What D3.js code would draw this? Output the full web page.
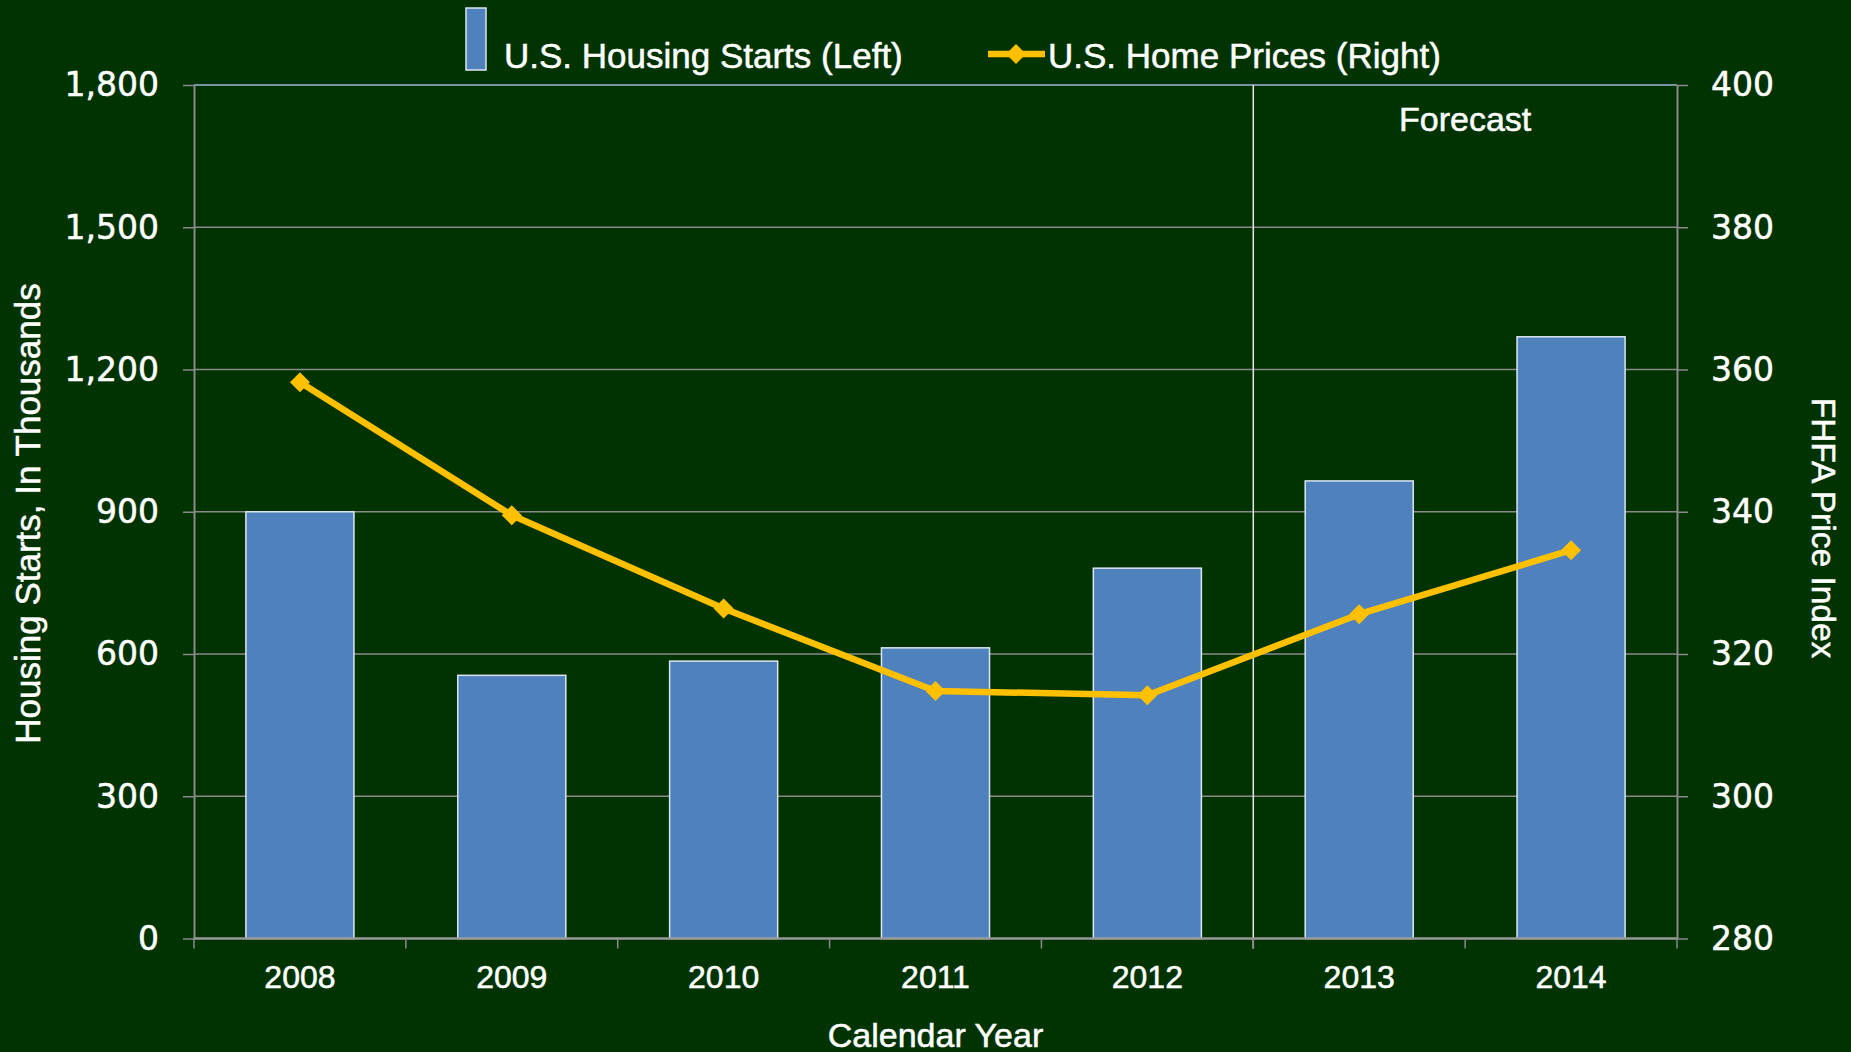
<!DOCTYPE html>
<html>
<head>
<meta charset="utf-8">
<script src="https://cdn.jsdelivr.net/npm/d3@7"></script>
<style>
  body { margin: 0; background: #003300; }
  svg { display: block; }
</style>
</head>
<body>
<div id="chart"></div>
<script>
// chart data
var years = ["2008", "2009", "2010", "2011", "2012", "2013", "2014"];
var housingStarts = [900, 555, 585, 613, 781, 965, 1269];
var homePrices = [358.2, 339.5, 326.4, 314.8, 314.2, 325.6, 334.6];
var leftTicks = [0, 300, 600, 900, 1200, 1500, 1800];
var rightTicks = [280, 300, 320, 340, 360, 380, 400];
var forecastFrom = "2013";

var areaWidth = 1851;
var areaHeight = 1052;
var plot = { left: 194, right: 1677, top: 85, bottom: 938.5 };

var bg = "#003300";
var barColor = "#4f81bd";
var barStroke = "#dce6f2";
var lineColor = "#ffc000";
var gridColor = "#8a8a8a";
var labelFont = "'Liberation Sans', Arial, sans-serif";
var tickFont = "'DejaVu Sans', Verdana, sans-serif";

var svg = d3.select("#chart").append("svg")
  .attr("width", areaWidth)
  .attr("height", areaHeight)
  .style("background", bg);

var x = d3.scaleBand()
  .domain(years)
  .range([plot.left, plot.right])
  .paddingInner(0.49)
  .paddingOuter(0.245);

var yLeft = d3.scaleLinear().domain([0, 1800]).range([plot.bottom, plot.top]);
var yRight = d3.scaleLinear().domain([280, 400]).range([plot.bottom, plot.top]);

// band boundary (left edge of a category slot)
function slotStart(d) {
  return x(d) - (x.step() * x.paddingInner()) / 2;
}

// white text, slightly heavier than the plain font
function whiteText(sel, font, size) {
  return sel
    .style("fill", "white")
    .style("stroke", "white")
    .style("stroke-width", 0.5)
    .style("font-family", font)
    .style("font-size", size + "px");
}

// gridlines
svg.append("g")
  .selectAll("line")
  .data(leftTicks.slice(1, -1))
  .enter()
  .append("line")
  .attr("x1", plot.left)
  .attr("x2", plot.right)
  .attr("y1", function (d) { return yLeft(d); })
  .attr("y2", function (d) { return yLeft(d); })
  .style("stroke", gridColor)
  .style("stroke-width", 1.5);

// top border of plot area
svg.append("line")
  .attr("x1", plot.left)
  .attr("x2", plot.right)
  .attr("y1", plot.top)
  .attr("y2", plot.top)
  .style("stroke", "#9fb6d6")
  .style("stroke-width", 1.5);

// bars
svg.append("g")
  .selectAll("rect")
  .data(housingStarts)
  .enter()
  .append("rect")
  .attr("x", function (d, i) { return x(years[i]); })
  .attr("y", function (d) { return yLeft(d); })
  .attr("width", x.bandwidth())
  .attr("height", function (d) { return yLeft(0) - yLeft(d); })
  .style("fill", barColor)
  .style("stroke", barStroke)
  .style("stroke-width", 1.5);

// forecast divider
var divX = slotStart(forecastFrom);
svg.append("line")
  .attr("x1", divX)
  .attr("x2", divX)
  .attr("y1", plot.top)
  .attr("y2", plot.bottom + 10)
  .style("stroke", "#e8e8e8")
  .style("stroke-width", 1.5);

whiteText(svg.append("text"), labelFont, 34)
  .text("Forecast")
  .attr("x", (divX + plot.right) / 2)
  .attr("y", 130.5)
  .attr("text-anchor", "middle");

// left axis
var leftAxis = svg.append("g")
  .attr("transform", "translate(" + plot.left + ",0)")
  .call(d3.axisLeft(yLeft).tickValues(leftTicks).tickFormat(d3.format(","))
    .tickSize(11).tickSizeOuter(0).tickPadding(24));

// right axis
var rightAxis = svg.append("g")
  .attr("transform", "translate(" + plot.right + ",0)")
  .call(d3.axisRight(yRight).tickValues(rightTicks)
    .tickSize(11).tickSizeOuter(0).tickPadding(23));

[leftAxis, rightAxis].forEach(function (g) {
  g.select(".domain").style("stroke", gridColor).style("stroke-width", 2);
  g.selectAll(".tick line").style("stroke", gridColor).style("stroke-width", 1.5);
  whiteText(g.selectAll(".tick text"), tickFont, 33)
    .attr("dy", "0.33em");
});

// x axis labels
var xAxis = svg.append("g")
  .attr("transform", "translate(0," + plot.bottom + ")")
  .call(d3.axisBottom(x).tickSize(0).tickPadding(27));
xAxis.select(".domain").remove();
whiteText(xAxis.selectAll(".tick text"), labelFont, 32);

// x axis line and slot ticks
svg.append("line")
  .attr("x1", plot.left)
  .attr("x2", plot.right)
  .attr("y1", plot.bottom)
  .attr("y2", plot.bottom)
  .style("stroke", "#999999")
  .style("stroke-width", 2.5);

svg.append("g")
  .selectAll("line")
  .data(years.concat(["end"]))
  .enter()
  .append("line")
  .attr("x1", function (d, i) { return i < years.length ? slotStart(d) : plot.right; })
  .attr("x2", function (d, i) { return i < years.length ? slotStart(d) : plot.right; })
  .attr("y1", plot.bottom)
  .attr("y2", plot.bottom + 10)
  .style("stroke", gridColor)
  .style("stroke-width", 1.5);

// price line
var line = d3.line()
  .x(function (d, i) { return x(years[i]) + x.bandwidth() / 2; })
  .y(function (d) { return yRight(d); });

svg.append("path")
  .datum(homePrices)
  .attr("d", line)
  .style("fill", "none")
  .style("stroke", lineColor)
  .style("stroke-width", 6.5)
  .style("stroke-linejoin", "round");

var diamond = d3.symbol().type(d3.symbolSquare).size(200);

svg.append("g")
  .selectAll("path")
  .data(homePrices)
  .enter()
  .append("path")
  .attr("d", diamond)
  .attr("transform", function (d, i) {
    return "translate(" + (x(years[i]) + x.bandwidth() / 2) + "," + yRight(d) + ") rotate(45)";
  })
  .style("fill", lineColor);

// axis titles
whiteText(svg.append("text"), labelFont, 35)
  .text("Housing Starts, In Thousands")
  .attr("transform", "translate(39.5,513.5) rotate(-90)")
  .attr("text-anchor", "middle");

whiteText(svg.append("text"), labelFont, 33.5)
  .text("FHFA Price Index")
  .attr("transform", "translate(1812,528) rotate(90)")
  .attr("text-anchor", "middle");

whiteText(svg.append("text"), labelFont, 34)
  .text("Calendar Year")
  .attr("x", 935.5)
  .attr("y", 1046.5)
  .attr("text-anchor", "middle");

// legend
var legend = svg.append("g");

legend.append("rect")
  .attr("x", 466)
  .attr("y", 8)
  .attr("width", 20)
  .attr("height", 62)
  .style("fill", barColor)
  .style("stroke", barStroke)
  .style("stroke-width", 1.5);

whiteText(legend.append("text"), labelFont, 35)
  .text("U.S. Housing Starts (Left)")
  .attr("x", 504)
  .attr("y", 68);

legend.append("line")
  .attr("x1", 988)
  .attr("x2", 1045)
  .attr("y1", 54)
  .attr("y2", 54)
  .style("stroke", lineColor)
  .style("stroke-width", 6.5);

legend.append("path")
  .attr("d", diamond)
  .attr("transform", "translate(1016,54) rotate(45)")
  .style("fill", lineColor);

whiteText(legend.append("text"), labelFont, 35)
  .text("U.S. Home Prices (Right)")
  .attr("x", 1048)
  .attr("y", 68);
</script>
</body>
</html>
